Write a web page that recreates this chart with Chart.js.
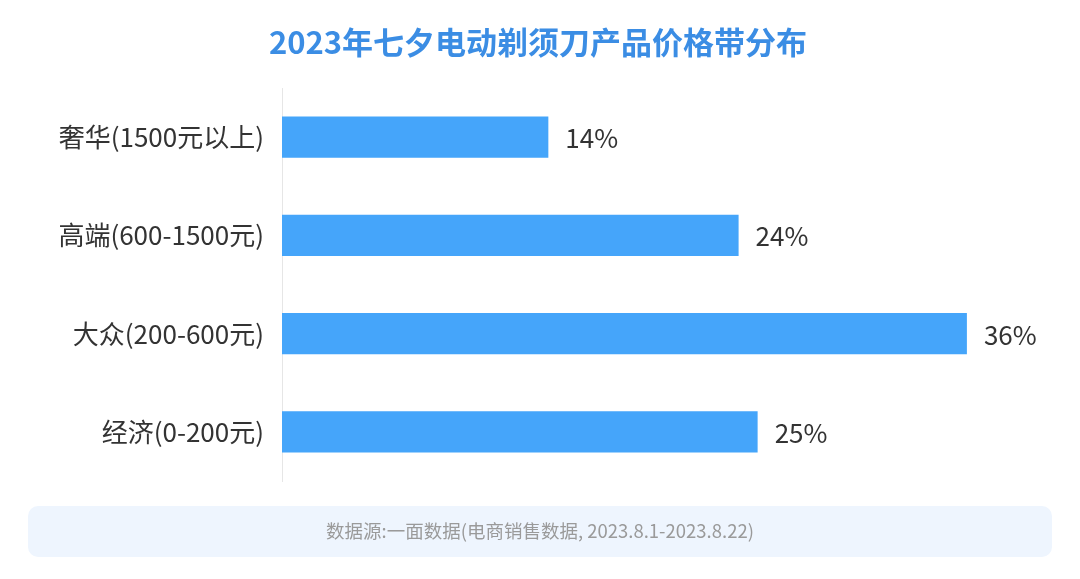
<!DOCTYPE html>
<html>
<head>
<meta charset="utf-8">
<script src="https://cdn.jsdelivr.net/npm/chart.js@4/dist/chart.umd.min.js"></script>
<style>
  html, body { margin: 0; padding: 0; background: #fff; }
  #wrap { width: 1080px; height: 579px; }
</style>
</head>
<body>
<div id="wrap"><canvas id="priceChart" width="1080" height="579"></canvas></div>
<script>
const chartTitle = '2023年七夕电动剃须刀产品价格带分布';
const sourceNote = '数据源:一面数据(电商销售数据, 2023.8.1-2023.8.22)';
const priceBands = ['奢华(1500元以上)', '高端(600-1500元)', '大众(200-600元)', '经济(0-200元)'];
const shareValues = [14, 24, 36, 25];

const fontCJK = '"Noto Sans CJK SC", "Noto Sans", sans-serif';

// title, footer box and value labels drawn on the canvas
const decorPlugin = {
  id: 'decor',
  afterDraw(chart) {
    const ctx = chart.ctx;
    ctx.save();

    // title
    ctx.fillStyle = '#3b8de4';
    ctx.font = 'bold 31px ' + fontCJK;
    ctx.textAlign = 'center';
    ctx.textBaseline = 'middle';
    ctx.fillText(chartTitle, 538, 42);

    // value labels at bar ends
    const meta = chart.getDatasetMeta(0);
    ctx.fillStyle = '#333';
    ctx.font = '26px ' + fontCJK;
    ctx.textAlign = 'left';
    meta.data.forEach((bar, i) => {
      ctx.fillText(shareValues[i] + '%', bar.x + 17, bar.y + 1);
    });

    // footer box
    ctx.fillStyle = '#eef5fe';
    ctx.beginPath();
    ctx.roundRect(28, 506, 1024, 51, 10);
    ctx.fill();
    ctx.fillStyle = '#9a9a9a';
    ctx.font = '18.5px ' + fontCJK;
    ctx.textAlign = 'center';
    ctx.fillText(sourceNote, 540, 531);

    ctx.restore();
  }
};

new Chart(document.getElementById('priceChart'), {
  type: 'bar',
  data: {
    labels: priceBands,
    datasets: [{
      data: shareValues,
      backgroundColor: '#45a5fa',
      borderWidth: 0,
      barPercentage: 0.84,
      categoryPercentage: 0.5
    }]
  },
  options: {
    indexAxis: 'y',
    responsive: false,
    animation: false,
    layout: { padding: { top: 88, bottom: 98, left: 0, right: 37 } },
    plugins: {
      legend: { display: false },
      tooltip: { enabled: false }
    },
    scales: {
      x: {
        display: false,
        min: 0,
        max: 40
      },
      y: {
        afterFit(scale) { scale.width = 282; },
        grid: { display: false },
        border: { display: true, color: '#e6e6e6', width: 1 },
        ticks: {
          color: '#333',
          padding: 10,
          font: { family: fontCJK, size: 26 }
        }
      }
    }
  },
  plugins: [decorPlugin]
});
</script>
</body>
</html>
